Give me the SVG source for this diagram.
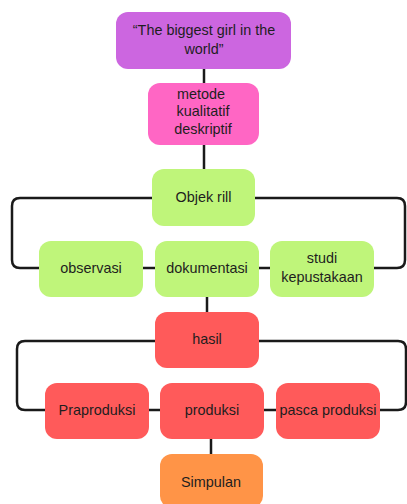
<svg xmlns="http://www.w3.org/2000/svg" width="407" height="504" viewBox="0 0 407 504">
<style>
.n{stroke:none}
.t{font-family:"Liberation Sans",Arial,sans-serif;font-size:14.4px;fill:#1e1e1e;text-anchor:middle;dominant-baseline:central}
.c{fill:none;stroke:#1a1a1a;stroke-width:2.5}
.p{fill:#CC66E0}.k{fill:#FF66C4}.g{fill:#BFF57A}.r{fill:#FF5A5A}.o{fill:#FF9447}
</style>
<rect width="407" height="504" fill="#fff"/>
<g id="connectors">
<line class="c" x1="204" y1="69" x2="204" y2="83"/>
<line class="c" x1="204" y1="145" x2="204" y2="169"/>
<path class="c" d="M152 198 H20 Q12 198 12 206 V260 Q12 268 20 268 H40"/>
<path class="c" d="M255 198 H397 Q405 198 405 206 V260 Q405 268 397 268 H374"/>
<line class="c" x1="143" y1="268" x2="155" y2="268"/>
<line class="c" x1="259" y1="268" x2="270" y2="268"/>
<line class="c" x1="207" y1="297" x2="207" y2="312"/>
<path class="c" d="M155 341 H25 Q17 341 17 349 V402 Q17 410 25 410 H45"/>
<path class="c" d="M259 341 H398 Q406 341 406 349 V402 Q406 410 398 410 H380"/>
<line class="c" x1="149" y1="410" x2="160" y2="410"/>
<line class="c" x1="264" y1="410" x2="276" y2="410"/>
<line class="c" x1="211" y1="439" x2="211" y2="454"/>
</g>
<g id="title"><rect class="p" x="116" y="12" width="175" height="57" rx="12"/><text class="t" x="204" y="30">“The biggest girl in the</text><text class="t" x="204" y="49">world”</text></g>
<g id="metode"><rect class="k" x="148" y="83" width="111" height="62" rx="12"/><text class="t" x="201" y="94">metode</text><text class="t" x="203" y="111">kualitatif</text><text class="t" x="203" y="129">deskriptif</text></g>
<g id="objek"><rect class="g" x="152" y="169" width="103" height="57" rx="12"/><text class="t" x="203.5" y="197">Objek rill</text></g>
<g id="observasi"><rect class="g" x="39" y="241" width="104" height="56" rx="12"/><text class="t" x="91" y="268">observasi</text></g>
<g id="dokumentasi"><rect class="g" x="155" y="241" width="104" height="56" rx="12"/><text class="t" x="207" y="268">dokumentasi</text></g>
<g id="studi"><rect class="g" x="270" y="241" width="104" height="56" rx="12"/><text class="t" x="322" y="258">studi</text><text class="t" x="322" y="277">kepustakaan</text></g>
<g id="hasil"><rect class="r" x="155" y="312" width="104" height="56" rx="12"/><text class="t" x="207" y="339">hasil</text></g>
<g id="praproduksi"><rect class="r" x="45" y="383" width="104" height="56" rx="12"/><text class="t" x="97" y="410">Praproduksi</text></g>
<g id="produksi"><rect class="r" x="160" y="383" width="104" height="56" rx="12"/><text class="t" x="212" y="410">produksi</text></g>
<g id="pasca"><rect class="r" x="276" y="383" width="104" height="56" rx="12"/><text class="t" x="328" y="410">pasca produksi</text></g>
<g id="simpulan"><rect class="o" x="160" y="454" width="103" height="54" rx="12"/><text class="t" x="211" y="482">Simpulan</text></g>
</svg>
